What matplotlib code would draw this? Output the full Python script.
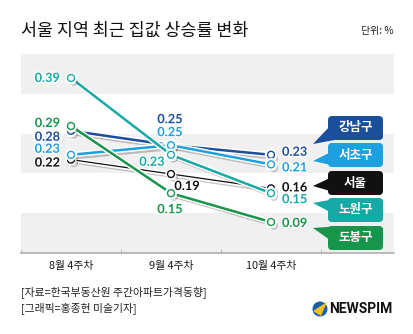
import matplotlib
matplotlib.use("Agg")
import matplotlib.pyplot as plt
import matplotlib.patheffects as pe
from matplotlib.patches import FancyBboxPatch, Polygon, Circle, Rectangle

# data
weeks = ['8월 4주차', '9월 4주차', '10월 4주차']
regions = ['서울', '강남구', '서초구', '도봉구', '노원구']
seoul = [0.22, 0.19, 0.16]
gangnam = [0.28, 0.25, 0.23]
seocho = [0.23, 0.25, 0.21]
dobong = [0.29, 0.15, 0.09]
nowon = [0.39, 0.23, 0.15]
series = [seoul, gangnam, seocho, dobong, nowon]

colors = {'서울': '#111111', '강남구': '#1b4f9c', '서초구': '#1e9fe0',
          '도봉구': '#17954a', '노원구': '#17a9a6'}
# label offsets in pixels (dx, dy) per point, and alignment
offsets = {
    '서울':  [(-11, -3, 'right'), (16, -12, 'center'), (11, 1, 'left')],
    '강남구': [(-11, -6, 'right'), (-1, 26, 'center'), (11, 3, 'left')],
    '서초구': [(-11, 6, 'right'), (-1, 13, 'center'), (11, -3, 'left')],
    '도봉구': [(-11, 3, 'right'), (-1, -16, 'center'), (11, -1, 'left')],
    '노원구': [(-11, 0, 'right'), (-19, -7, 'center'), (11, -6, 'left')],
}

W, H = 414, 334
fig = plt.figure(figsize=(W / 100, H / 100), dpi=100)
fig.patch.set_facecolor('white')

ax = fig.add_axes([21 / W, 1 - 253 / H, (394 - 21) / W, (253 - 54) / H])
ax.set_xlim(-0.5, 3.23)
ax.set_ylim(0.0254, 0.44)
for i in range(5):
    if i % 2 == 0:
        ax.add_patch(Rectangle((0, i * 0.2), 1, 0.2, transform=ax.transAxes,
                               facecolor='#f0f0f0', edgecolor='none', zorder=0))
for s in ['top', 'left', 'right']:
    ax.spines[s].set_visible(False)
ax.spines['bottom'].set_color('#b0b0b0')
ax.spines['bottom'].set_linewidth(1.2)
ax.set_yticks([])
x = list(range(len(weeks)))
ax.set_xticks(x)
ax.set_xticklabels(weeks, family=['Noto Sans CJK KR'], fontsize=7.8, color='#1a1a1a')
ax.tick_params(axis='x', length=0, pad=6)
ax.set_xticks([-0.5, 0.5, 1.5, 2.5], minor=True)
ax.tick_params(axis='x', which='minor', length=3, direction='in', color='#b0b0b0')

for name, vals in zip(regions, series):
    c = colors[name]
    lw = 0.9 if name == '서울' else 1.8
    ax.plot(x, vals, color=c, lw=lw, marker='o', ms=5, mfc='white', mec=c, mew=1,
            zorder=3, path_effects=[
                pe.SimpleLineShadow(offset=(2, -2.5), shadow_color='#555555', alpha=0.35),
                pe.Stroke(linewidth=lw + 2.2, foreground='white'), pe.Normal()])
    for xi, v, (dx, dy, ha) in zip(x, vals, offsets[name]):
        ax.annotate(f'{v:.2f}', (xi, v), xytext=(dx, dy), textcoords='offset pixels',
                    ha=ha, va='center', fontsize=9.2, fontweight='bold', family='Lato',
                    color=c, zorder=5,
                    path_effects=[pe.Stroke(linewidth=2, foreground='white'), pe.Normal()])

# overlay in pixel coordinates
ov = fig.add_axes([0, 0, 1, 1], facecolor='none')
ov.set_xlim(0, W)
ov.set_ylim(H, 0)
ov.axis('off')

ov.text(21, 31, '서울 지역 최근 집값 상승률 변화', fontsize=12.5, family='Noto Sans CJK KR',
        va='center', ha='left', color='#111111')
ov.text(394, 31, '단위: %', fontsize=7.2, family='Noto Sans CJK KR', va='center', ha='right',
        color='#222222')
ov.text(21, 292, '[자료=한국부동산원 주간아파트가격동향]', fontsize=7.8,
        family='Noto Sans CJK KR', va='center', color='#222222')
ov.text(21, 308, '[그래픽=홍종현 미술기자]', fontsize=7.8,
        family='Noto Sans CJK KR', va='center', color='#222222')

callouts = [
    ('강남구', 116, [(331, 125), (340, 139), (313, 144)]),
    ('서초구', 143, [(331, 152), (340, 167), (313, 161)]),
    ('서울', 171, [(330, 178), (330, 191), (313, 186)]),
    ('노원구', 198, [(340, 198), (330, 212), (313, 203)]),
    ('도봉구', 226, [(340, 226), (330, 240), (313, 228)]),
]
for name, top, tail in callouts:
    c = colors[name]
    ov.add_patch(Polygon(tail, closed=True, facecolor=c, edgecolor='none'))
    ov.add_patch(FancyBboxPatch((328, top), 55, 24, boxstyle='round,pad=0,rounding_size=4',
                                facecolor=c, edgecolor='none'))
    ov.text(355.5, top + 12, name, color='white', fontsize=9, fontweight='bold',
            family='Noto Sans CJK KR', ha='center', va='center')

# logo
ov.add_patch(Circle((320, 309), 7.5, facecolor='#1a5ea8', edgecolor='none'))
ov.add_patch(Polygon([(313, 311), (327, 302), (321, 316)], closed=True,
                     facecolor='#f5c018', edgecolor='none'))
ov.text(329, 309, 'NEWSPIM', fontsize=10, fontweight='bold', family='Roboto',
        va='center', ha='left', color='#111111')

fig.savefig('out.png', dpi=100)
